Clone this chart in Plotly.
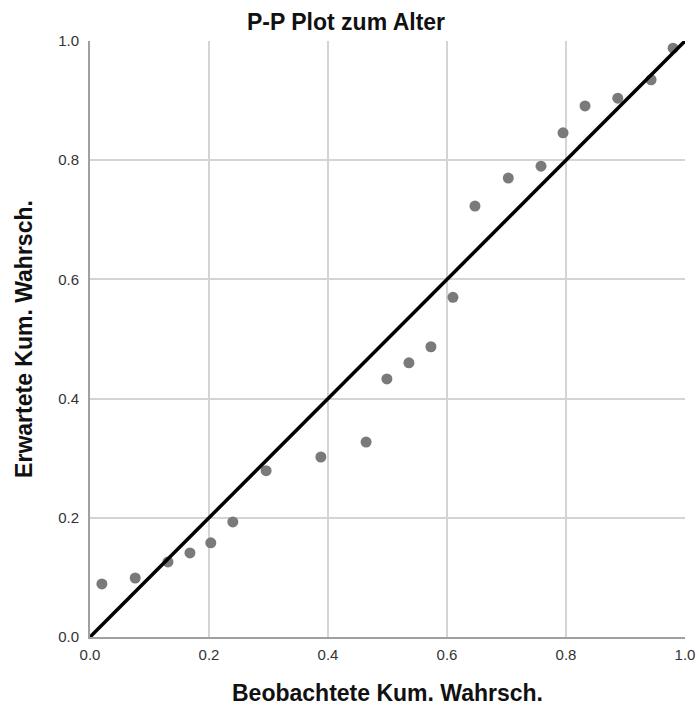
import plotly.graph_objects as go

observed = [0.020, 0.076, 0.131, 0.168, 0.203, 0.240, 0.296, 0.388, 0.464, 0.499,
            0.536, 0.573, 0.610, 0.647, 0.703, 0.758, 0.795, 0.832, 0.887, 0.943, 0.980]
expected = [0.089, 0.099, 0.126, 0.141, 0.158, 0.193, 0.279, 0.302, 0.327, 0.433,
            0.460, 0.487, 0.570, 0.723, 0.770, 0.790, 0.846, 0.891, 0.904, 0.935, 0.988]
ref_line = [0.0, 1.0]
tick_vals = [0.0, 0.2, 0.4, 0.6, 0.8, 1.0]

font = "Liberation Sans, Arial, sans-serif"

fig = go.Figure()
fig.add_trace(go.Scatter(x=observed, y=expected, mode="markers",
                         marker=dict(color="#7a7a7a", size=11, line=dict(width=0)),
                         showlegend=False, cliponaxis=False))
fig.add_trace(go.Scatter(x=ref_line, y=ref_line, mode="lines",
                         line=dict(color="black", width=3.5),
                         showlegend=False, cliponaxis=False))

fig.update_layout(
    width=699, height=711,
    margin=dict(l=90, r=14, t=41, b=74, autoexpand=False),
    paper_bgcolor="white", plot_bgcolor="white",
    font=dict(family=font, color="#222"),
    title=dict(text="<b>P-P Plot zum Alter</b>", x=0.495, xanchor="center", y=0.969, yanchor="middle",
               font=dict(size=23, color="#111", family=font)),
)
fig.update_xaxes(range=[0, 1], tickvals=tick_vals, tickformat=".1f", automargin=False,
                 showgrid=True, gridcolor="#d4d4d4", gridwidth=1.5,
                 showline=True, linecolor="#a0a0a0", linewidth=2,
                 zeroline=False, ticks="", tickfont=dict(size=15, color="#333"),
                 ticklabelstandoff=3,
                 title=dict(text="<b>Beobachtete Kum. Wahrsch.</b>", font=dict(size=23, color="#111"), standoff=23))
fig.update_yaxes(range=[0, 1], tickvals=tick_vals, tickformat=".1f", automargin=False,
                 showgrid=True, gridcolor="#d4d4d4", gridwidth=1.5,
                 showline=True, linecolor="#a0a0a0", linewidth=2,
                 zeroline=False, ticks="", tickfont=dict(size=15, color="#333"),
                 ticklabelstandoff=6,
                 title=dict(text="<b>Erwartete Kum. Wahrsch.</b>", font=dict(size=23, color="#111"), standoff=19))

fig.write_html("out.html")
